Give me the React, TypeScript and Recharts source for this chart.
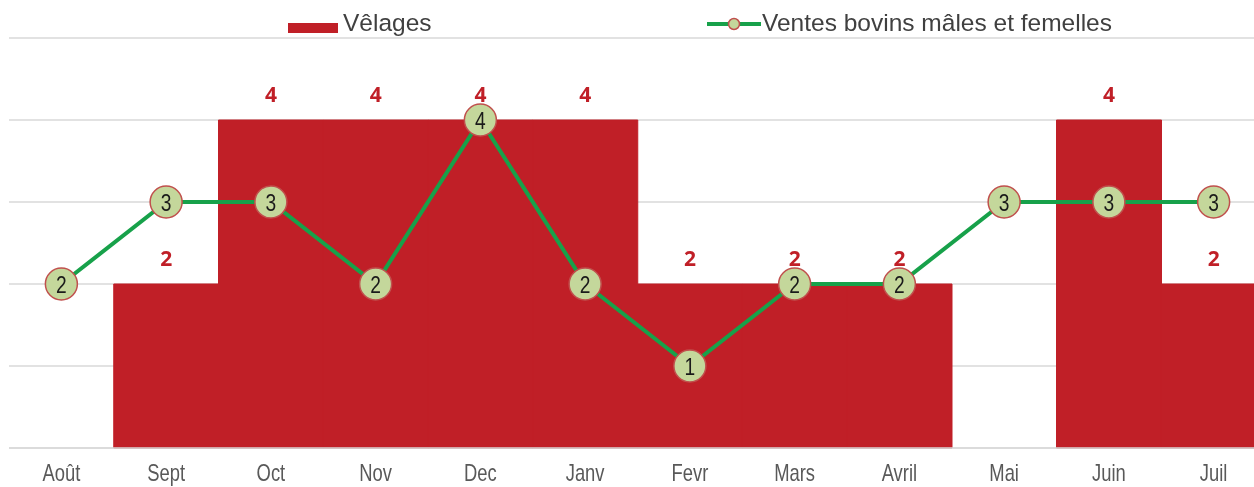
import React from 'react';
import { ComposedChart, Bar, Line, XAxis, YAxis, CartesianGrid, LabelList } from 'recharts';

const months = ['Août', 'Sept', 'Oct', 'Nov', 'Dec', 'Janv', 'Fevr', 'Mars', 'Avril', 'Mai', 'Juin', 'Juil'];
const velages = [0, 2, 4, 4, 4, 4, 2, 2, 2, 0, 4, 2];
const ventes = [2, 3, 3, 2, 4, 2, 1, 2, 2, 3, 3, 3];
const yTicks = [0, 1, 2, 3, 4, 5];

const data = months.map((m, i) => ({ month: m, velages: velages[i], ventes: ventes[i] }));

const RED = '#C01F27';
const GREEN = '#17A14A';
const DOT_FILL = '#C4D79B';
const DOT_STROKE = '#C0504D';
const FONT = '"Liberation Sans", Arial, sans-serif';

const NarrowTick = (props: any) => {
  const { x, y, payload } = props;
  return (
    <g transform={`translate(${x},${y})`}>
      <text
        transform="scale(0.8,1)"
        x={0}
        y={0}
        dy={21}
        textAnchor="middle"
        fill="#595959"
        fontSize={23}
        fontFamily={FONT}
      >
        {payload.value}
      </text>
    </g>
  );
};

const DotLabel = (props: any) => {
  const { x, y, value } = props;
  return (
    <g transform={`translate(${x},${y})`}>
      <text
        transform="scale(0.8,1)"
        x={0}
        y={0}
        dy={8.5}
        textAnchor="middle"
        fill="#1a1a1a"
        fontSize={24}
        fontFamily={FONT}
      >
        {value}
      </text>
    </g>
  );
};

export default function App() {
  return (
    <div style={{ position: 'fixed', top: 8, left: 8, width: 1246, height: 479, overflow: 'hidden' }}>
      <ComposedChart
        width={1258}
        height={490}
        data={data}
        margin={{ top: 30, right: 0, bottom: 20, left: 1 }}
        barCategoryGap={0}
        barGap={0}
      >
        <CartesianGrid vertical={false} stroke="#D9D9D9" strokeWidth={1.5} />
        <XAxis
          dataKey="month"
          axisLine={{ stroke: '#D9D9D9', strokeWidth: 1.5 }}
          tickLine={false}
          height={30}
          tick={<NarrowTick />}
          tickMargin={6}
          interval={0}
        />
        <YAxis hide domain={[0, 5]} ticks={yTicks} />
        <Bar dataKey="velages" fill={RED} stroke={RED} strokeWidth={1} isAnimationActive={false}>
          <LabelList
            dataKey="velages"
            position="top"
            offset={18}
            formatter={(v: number) => (v === 0 ? '' : v)}
            style={{ fontSize: 21, fontWeight: 700, fill: RED, fontFamily: '"Open Sans", sans-serif' }}
          />
        </Bar>
        <Line
          dataKey="ventes"
          stroke={GREEN}
          strokeWidth={4}
          isAnimationActive={false}
          dot={{ r: 16, fill: DOT_FILL, stroke: DOT_STROKE, strokeWidth: 1.5 }}
          activeDot={false}
        >
          <LabelList dataKey="ventes" content={<DotLabel />} />
        </Line>
      </ComposedChart>
      <div
        style={{
          position: 'absolute',
          top: 0,
          left: 0,
          width: 1246,
          height: 30,
          fontFamily: FONT,
          color: '#404040',
          fontSize: 24.5,
        }}
      >
        <div style={{ position: 'absolute', left: 280, top: 15, width: 50, height: 10, background: RED }} />
        <div style={{ position: 'absolute', left: 335, top: 0, lineHeight: '30px' }}>Vêlages</div>
        <svg style={{ position: 'absolute', left: 698, top: 8 }} width={56} height={16}>
          <line x1={1} y1={8} x2={55} y2={8} stroke={GREEN} strokeWidth={4} />
          <circle cx={28} cy={8} r={5.5} fill={DOT_FILL} stroke={DOT_STROKE} strokeWidth={1.5} />
        </svg>
        <div style={{ position: 'absolute', left: 754, top: 0, lineHeight: '30px' }}>Ventes bovins mâles et femelles</div>
      </div>
    </div>
  );
}
